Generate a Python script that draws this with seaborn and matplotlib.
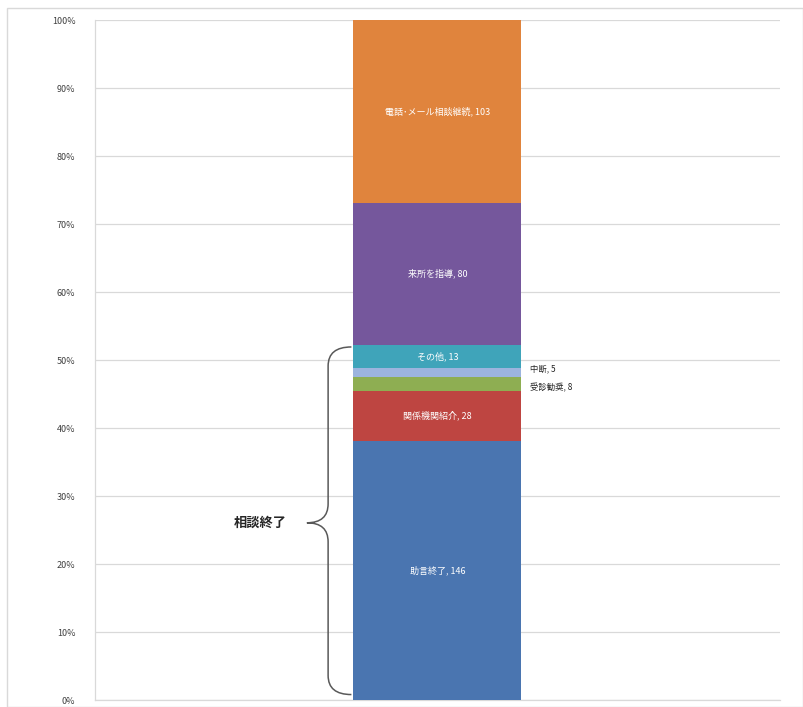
import matplotlib
matplotlib.use("Agg")
import matplotlib.pyplot as plt
from matplotlib.patches import Rectangle
from matplotlib.path import Path
from matplotlib.patches import PathPatch
import numpy as np
import pandas as pd
import seaborn as sns

# Consultation outcomes (counts), bottom to top of the stacked bar
categories = ["助言終了", "関係機関紹介", "受診勧奨", "中断", "その他", "来所を指導", "電話･メール相談継続"]
counts = [146, 28, 8, 5, 13, 80, 103]
colors = ["#4A75B0", "#BE4541", "#8EAE52", "#9CB4DE", "#3FA4BA", "#75579C", "#E0843D"]
y_ticks = [0, 10, 20, 30, 40, 50, 60, 70, 80, 90, 100]
y_tick_labels = [f"{t}%" for t in y_ticks]
bracket_label = "相談終了"

sns.set_theme(style="white")
plt.rcParams["font.family"] = ["Noto Sans CJK JP", "DejaVu Sans"]

total = sum(counts)
share = np.array(counts) / total * 100
cum_top = np.cumsum(share)
df = pd.DataFrame({"cat": categories, "count": counts, "share": share, "top": cum_top, "g": [""] * len(counts)})

fig = plt.figure(figsize=(8.04, 7.07), dpi=100)
ax = fig.add_axes([0.118, 0.0099, 0.852, 0.9618])

# stacked bar: draw cumulative tops from highest to lowest so each segment stays visible
bar_w = 0.245
for i in range(len(categories) - 1, -1, -1):
    sub = df.iloc[[i]]
    sns.barplot(data=sub, x="g", y="top", color=colors[i], width=bar_w,
                saturation=1, ax=ax, zorder=3, linewidth=0)

ax.set_xlim(-0.5, 0.5)
ax.set_ylim(0, 100)
ax.set_yticks(y_ticks)
ax.set_yticklabels(y_tick_labels, fontsize=6.5, color="#404040")
ax.tick_params(axis="y", length=0, pad=14)
ax.set_xticks([])
ax.set_xlabel("")
ax.set_ylabel("")
ax.yaxis.grid(True, color="#D9D9D9", linewidth=0.9, zorder=0)
ax.set_axisbelow(True)
for side in ["top", "right"]:
    ax.spines[side].set_visible(False)
for side in ["left", "bottom"]:
    ax.spines[side].set_color("#D9D9D9")
    ax.spines[side].set_linewidth(0.9)

# segment labels
inside = {0, 1, 4, 5, 6}
for i, (cat, cnt) in enumerate(zip(categories, counts)):
    mid = cum_top[i] - share[i] / 2
    if i in inside:
        ax.text(0, mid, f"{cat}, {cnt}", ha="center", va="center",
                fontsize=6.5, color="white", zorder=5)

# small segments labelled to the right of the bar
ax.text(bar_w / 2 + 0.012, cum_top[3] - share[3] / 2 + 0.5, f"{categories[3]}, {counts[3]}",
        ha="left", va="center", fontsize=6, color="#262626", zorder=5)
ax.text(bar_w / 2 + 0.012, cum_top[2] - share[2] / 2 - 0.6, f"{categories[2]}, {counts[2]}",
        ha="left", va="center", fontsize=6, color="#262626", zorder=5)

# curly brace grouping the closed consultations
x_b = -bar_w / 2
top_b = cum_top[4] - 0.3
bot_b = 0.8
mid_b = (top_b + bot_b) / 2 - 0.3
xr = x_b - 0.003
xm = x_b - 0.037
xt = x_b - 0.068
r = 2.8
verts = [
    (xr, top_b), (xm, top_b), (xm, top_b - r),
    (xm, mid_b + r),
    (xm, mid_b), (xt, mid_b), (xt, mid_b),
    (xt, mid_b), (xm, mid_b), (xm, mid_b - r),
    (xm, bot_b + r),
    (xm, bot_b), (xr, bot_b), (xr, bot_b),
]
codes = [Path.MOVETO, Path.CURVE3, Path.CURVE3,
         Path.LINETO,
         Path.CURVE3, Path.CURVE3, Path.LINETO,
         Path.MOVETO, Path.CURVE3, Path.CURVE3,
         Path.LINETO,
         Path.CURVE3, Path.CURVE3, Path.LINETO]
ax.add_patch(PathPatch(Path(verts, codes), fill=False, edgecolor="#595959",
                       linewidth=1.1, zorder=4, clip_on=False))
ax.text(xt - 0.03, mid_b, bracket_label, ha="right", va="center",
        fontsize=9.5, fontweight="bold", color="#262626")

# light outer frame
fig.patches.append(Rectangle((0.009, 0.0), 0.99, 0.989, transform=fig.transFigure,
                             fill=False, edgecolor="#D9D9D9", linewidth=1.0))

fig.savefig("out.png", dpi=100)
